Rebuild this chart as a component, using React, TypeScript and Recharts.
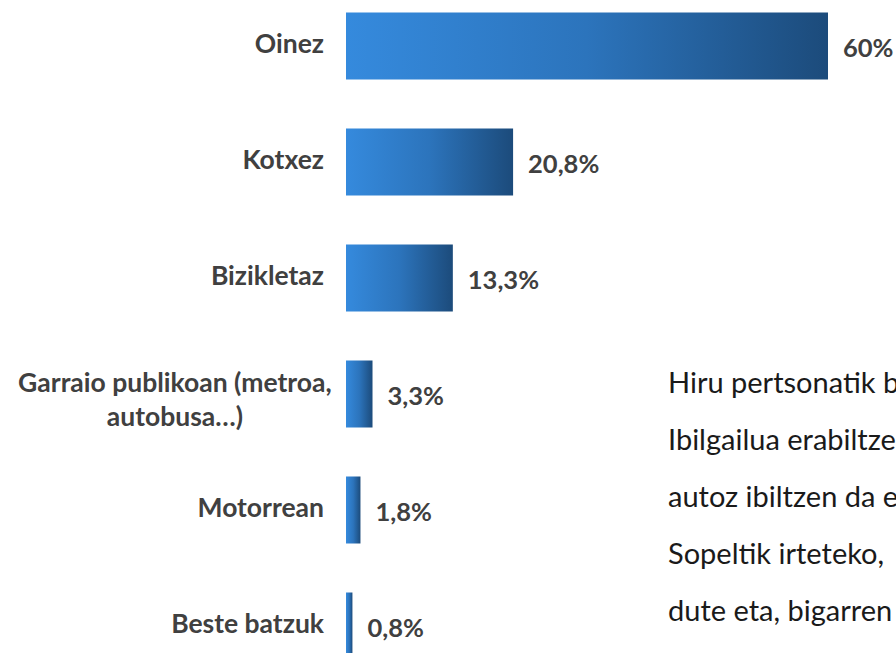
import { BarChart, Bar, XAxis, YAxis, LabelList } from "recharts";

const categories = [
  "Oinez",
  "Kotxez",
  "Bizikletaz",
  "Garraio publikoan (metroa,\nautobusa…)",
  "Motorrean",
  "Beste batzuk",
];
const shares = [60, 20.8, 13.3, 3.3, 1.8, 0.8];

const noteLines = [
  "Hiru pertsonatik b",
  "Ibilgailua erabiltze",
  "autoz ibiltzen da e",
  "Sopeltik irteteko,",
  "dute eta, bigarren",
];

const data = categories.map((name, i) => ({ name, value: shares[i] }));

const FONT = "Lato, 'Open Sans', sans-serif";
const TEXT = "#404040";
const LABEL_SIZE = 26.5;

const fmt = (v: any) => String(v).replace(".", ",") + "%";

function CategoryTick(props: any) {
  const { x, y, payload } = props;
  const lines = String(payload.value).split("\n");
  if (lines.length === 1) {
    return (
      <text x={x} y={y} dy="0.3em" textAnchor="end" fill={TEXT}
        fontFamily={FONT} fontWeight={700} fontSize={LABEL_SIZE}>
        {lines[0]}
      </text>
    );
  }
  // wrapped label: lines centred under the longest one
  const longest = Math.max(...lines.map((l) => l.length));
  const cx = x + 8 - (longest * LABEL_SIZE * 0.456) / 2;
  const lh = 34;
  const top = y - ((lines.length - 1) * lh) / 2 + 6;
  return (
    <text textAnchor="middle" fill={TEXT} fontFamily={FONT} fontWeight={700} fontSize={LABEL_SIZE}>
      {lines.map((l, i) => (
        <tspan key={i} x={cx} y={top + i * lh} dy="0.35em">
          {l}
        </tspan>
      ))}
    </text>
  );
}

export default function App() {
  return (
    <div
      style={{
        position: "absolute",
        left: 0,
        top: 0,
        width: 896,
        height: 653,
        overflow: "hidden",
        background: "#fff",
      }}
    >
      <div style={{ position: "absolute", left: 0, top: -20 }}>
        <BarChart
          width={896}
          height={720}
          data={data}
          layout="vertical"
          margin={{ top: 7.5, right: 68, bottom: 16.5, left: 0 }}
        >
          <defs>
            <linearGradient id="barGrad" x1="0" y1="0" x2="1" y2="0">
              <stop offset="0%" stopColor="#358ADD" />
              <stop offset="50%" stopColor="#2C74BC" />
              <stop offset="100%" stopColor="#1C4B7B" />
            </linearGradient>
          </defs>
          <XAxis type="number" domain={[0, 60]} hide />
          <YAxis
            type="category"
            dataKey="name"
            width={346}
            axisLine={false}
            tickLine={false}
            tickSize={0}
            tickMargin={22}
            interval={0}
            tick={<CategoryTick />}
          />
          <Bar dataKey="value" fill="url(#barGrad)" barSize={67} isAnimationActive={false}>
            <LabelList
              dataKey="value"
              position="right"
              offset={15}
              formatter={fmt}
              fill={TEXT}
              fontFamily={FONT}
              fontWeight={700}
              fontSize={25.5}
              dy={2}
            />
          </Bar>
        </BarChart>
      </div>
      <svg width={896} height={653} style={{ position: "absolute", left: 0, top: 0 }}>
        {noteLines.map((l, i) => (
          <text key={i} x={668} y={393 + i * 57} fill="#1a1a1a" fontFamily={FONT} fontSize={29}>
            {l}
          </text>
        ))}
      </svg>
    </div>
  );
}
